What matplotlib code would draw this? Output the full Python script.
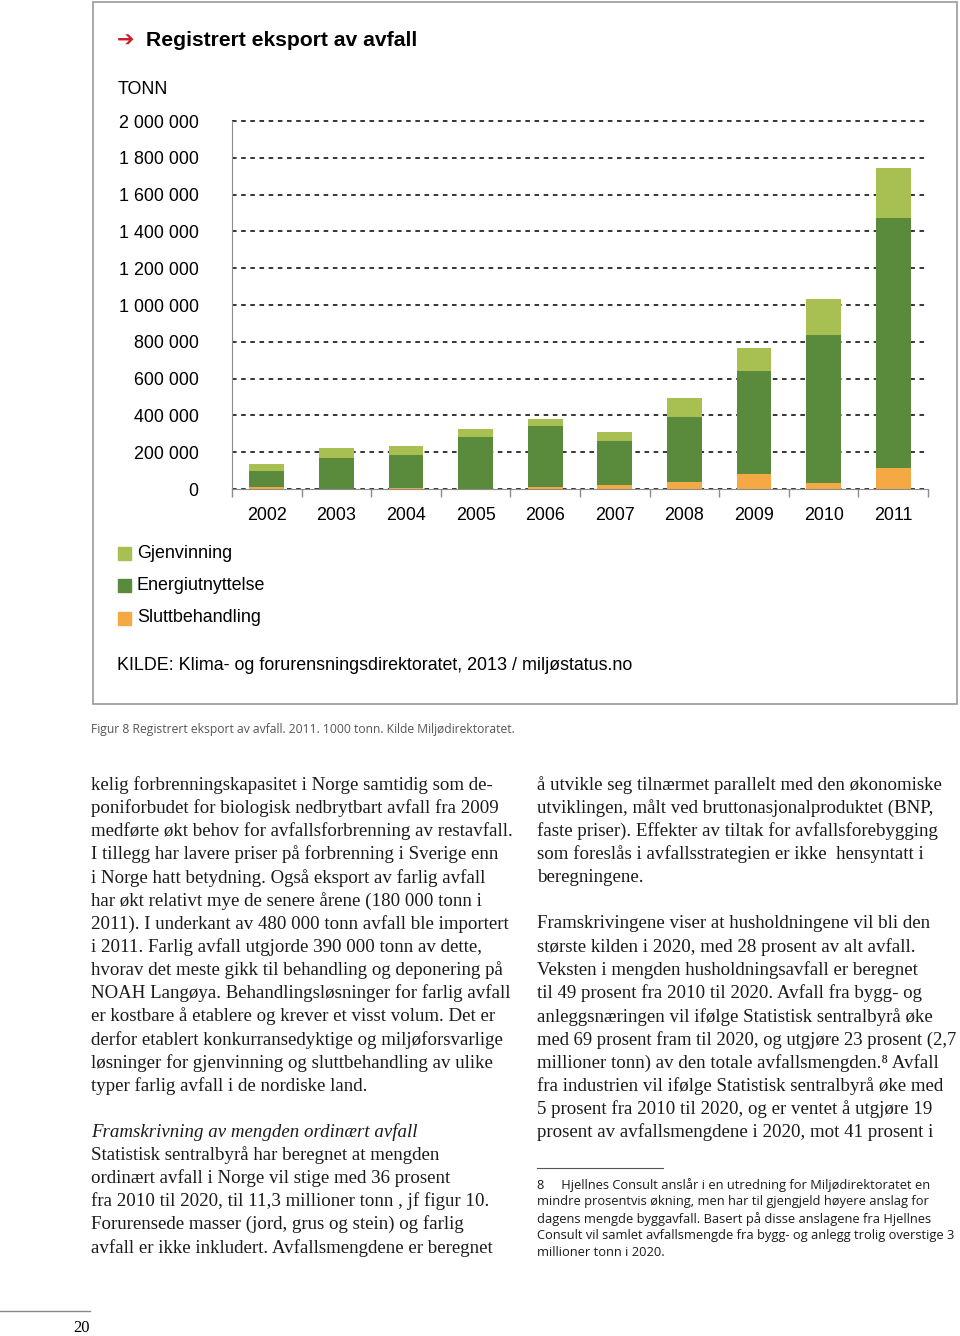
"""
Page recreation: 'Registrert eksport av avfall' stacked bar chart with
surrounding report text.
"""

import matplotlib
matplotlib.use("Agg")
import matplotlib.pyplot as plt
from matplotlib.patches import Rectangle
from matplotlib.lines import Line2D
from matplotlib.ticker import FuncFormatter, MultipleLocator

W, H = 960, 1336

# ---- chart data (tonn) ----
years = ["2002", "2003", "2004", "2005", "2006", "2007", "2008", "2009", "2010", "2011"]
sluttbehandling = [9000, 2000, 3000, 1000, 12000, 20000, 38000, 80000, 33000, 113000]
energiutnyttelse = [89000, 165000, 180000, 279000, 331000, 240000, 356000, 564000, 802000, 1358000]
gjenvinning = [36000, 57000, 51000, 47000, 35000, 49000, 100000, 120000, 198000, 274000]

series_names = ["Gjenvinning", "Energiutnyttelse", "Sluttbehandling"]
series_colors = ["#A8C052", "#5A8A3C", "#F4A944"]

title = "Registrert eksport av avfall"
unit_label = "TONN"
source = "KILDE: Klima- og forurensningsdirektoratet, 2013 / miljøstatus.no"
caption = "Figur 8 Registrert eksport av avfall. 2011. 1000 tonn. Kilde Miljødirektoratet."

left_col = [
    "kelig forbrenningskapasitet i Norge samtidig som de-",
    "poniforbudet for biologisk nedbrytbart avfall fra 2009",
    "medførte økt behov for avfallsforbrenning av restavfall.",
    "I tillegg har lavere priser på forbrenning i Sverige enn",
    "i Norge hatt betydning. Også eksport av farlig avfall",
    "har økt relativt mye de senere årene (180 000 tonn i",
    "2011). I underkant av 480 000 tonn avfall ble importert",
    "i 2011. Farlig avfall utgjorde 390 000 tonn av dette,",
    "hvorav det meste gikk til behandling og deponering på",
    "NOAH Langøya. Behandlingsløsninger for farlig avfall",
    "er kostbare å etablere og krever et visst volum. Det er",
    "derfor etablert konkurransedyktige og miljøforsvarlige",
    "løsninger for gjenvinning og sluttbehandling av ulike",
    "typer farlig avfall i de nordiske land.",
]
left_heading = "Framskrivning av mengden ordinært avfall"
left_col2 = [
    "Statistisk sentralbyrå har beregnet at mengden",
    "ordinært avfall i Norge vil stige med 36 prosent",
    "fra 2010 til 2020, til 11,3 millioner tonn , jf figur 10.",
    "Forurensede masser (jord, grus og stein) og farlig",
    "avfall er ikke inkludert. Avfallsmengdene er beregnet",
]
right_col = [
    "å utvikle seg tilnærmet parallelt med den økonomiske",
    "utviklingen, målt ved bruttonasjonalproduktet (BNP,",
    "faste priser). Effekter av tiltak for avfallsforebygging",
    "som foreslås i avfallsstrategien er ikke  hensyntatt i",
    "beregningene.",
]
right_col2 = [
    "Framskrivingene viser at husholdningene vil bli den",
    "største kilden i 2020, med 28 prosent av alt avfall.",
    "Veksten i mengden husholdningsavfall er beregnet",
    "til 49 prosent fra 2010 til 2020. Avfall fra bygg- og",
    "anleggsnæringen vil ifølge Statistisk sentralbyrå øke",
    "med 69 prosent fram til 2020, og utgjøre 23 prosent (2,7",
    "millioner tonn) av den totale avfallsmengden.⁸ Avfall",
    "fra industrien vil ifølge Statistisk sentralbyrå øke med",
    "5 prosent fra 2010 til 2020, og er ventet å utgjøre 19",
    "prosent av avfallsmengdene i 2020, mot 41 prosent i",
]
footnote = [
    "8     Hjellnes Consult anslår i en utredning for Miljødirektoratet en",
    "mindre prosentvis økning, men har til gjengjeld høyere anslag for",
    "dagens mengde byggavfall. Basert på disse anslagene fra Hjellnes",
    "Consult vil samlet avfallsmengde fra bygg- og anlegg trolig overstige 3",
    "millioner tonn i 2020.",
]
page_number = "20"

SANS = ["Liberation Sans", "DejaVu Sans"]
SERIF = ["Liberation Serif", "DejaVu Serif"]
MYRIAD = ["Open Sans", "DejaVu Sans"]
CHART_FS = 12.9


def fx(x):
    return x / W


def fy(y):
    return 1 - y / H


def ptext(fig, x, y, s, **kw):
    kw.setdefault("va", "center")
    kw.setdefault("ha", "left")
    return fig.text(fx(x), fy(y), s, **kw)


fig = plt.figure(figsize=(W / 100, H / 100), dpi=100)
renderer = fig.canvas.get_renderer()


def body_line(x, y, s, right_limit, **kw):
    """Draw a line of body text, shrinking it if it would pass the column edge."""
    t = ptext(fig, x, y, s, **kw)
    width = t.get_window_extent(renderer).width
    if x + width > right_limit:
        t.set_fontsize(t.get_fontsize() * (right_limit - x) / width)
    return t


# chart frame
fig.patches.append(Rectangle((fx(93), fy(704)), fx(957) - fx(93), fy(2) - fy(704),
                             transform=fig.transFigure, fill=False,
                             edgecolor="#9a9a9a", linewidth=1.2))

ptext(fig, 117, 41, "➔", color="#C8202A", fontsize=15, family=["DejaVu Sans"],
      fontweight="bold")
ptext(fig, 146, 41, title, fontsize=15.2, fontweight="bold", family=SANS)
ptext(fig, 118, 89, unit_label, fontsize=CHART_FS, family=SANS)

# ---- bars ----
ax = fig.add_axes([fx(232), fy(489), fx(928) - fx(232), fy(121) - fy(489)])
x = list(range(len(years)))
bottom2 = sluttbehandling
bottom3 = [a + b for a, b in zip(sluttbehandling, energiutnyttelse)]
ax.bar(x, sluttbehandling, width=0.5, color=series_colors[2], zorder=3)
ax.bar(x, energiutnyttelse, width=0.5, bottom=bottom2, color=series_colors[1], zorder=3)
ax.bar(x, gjenvinning, width=0.5, bottom=bottom3, color=series_colors[0], zorder=3)

ax.set_xlim(-0.5, len(years) - 0.5)
ax.set_ylim(0, 2000000)
ax.yaxis.set_major_locator(MultipleLocator(200000))
ax.yaxis.set_major_formatter(FuncFormatter(lambda v, p: f"{int(v):,}".replace(",", " ")))
ax.set_xticks(x)
ax.set_xticklabels(years)
ax.set_xticks([i - 0.5 for i in range(len(years) + 1)], minor=True)
ax.tick_params(axis="x", which="major", length=0, pad=13, labelsize=CHART_FS)
ax.tick_params(axis="x", which="minor", length=6, color="#8c8c8c", width=1)
ax.tick_params(axis="y", length=0, pad=24, labelsize=CHART_FS)
for lab in ax.get_xticklabels() + ax.get_yticklabels():
    lab.set_family(SANS)

ax.grid(axis="y", color="black", linestyle=(0, (3, 3)), linewidth=1.1, zorder=1)
for gl in ax.get_ygridlines():
    gl.set_clip_on(False)
ax.set_axisbelow(True)
for side in ("top", "right"):
    ax.spines[side].set_visible(False)
ax.spines["left"].set_color("#8c8c8c")
ax.spines["bottom"].set_color("#8c8c8c")
ax.spines["bottom"].set_zorder(4)

# legend
for i, (name, col) in enumerate(zip(series_names, series_colors)):
    yy = 553 + i * 32.5
    fig.patches.append(Rectangle((fx(118), fy(yy + 6.5)), fx(13), 13 / H,
                                 transform=fig.transFigure, color=col))
    ptext(fig, 137, yy, name, fontsize=CHART_FS, family=SANS)

ptext(fig, 117, 666, source, fontsize=CHART_FS, family=SANS)
ptext(fig, 91, 730, caption, fontsize=8.7, family=MYRIAD, color="#555555")

# ---- body text ----
LS = 23.15
body_kw = dict(fontsize=13.6, family=SERIF, color="#1a1a1a")
for i, line in enumerate(left_col):
    body_line(91, 785 + i * LS, line, 512, **body_kw)
body_line(91, 1132, left_heading, 512, style="italic", **body_kw)
for i, line in enumerate(left_col2):
    body_line(91, 1155 + i * LS, line, 512, **body_kw)
for i, line in enumerate(right_col):
    body_line(537, 785 + i * LS, line, 956, **body_kw)
for i, line in enumerate(right_col2):
    body_line(537, 924 + i * LS, line, 956, **body_kw)

fig.lines.append(Line2D([fx(537), fx(663)], [fy(1168), fy(1168)],
                        transform=fig.transFigure, color="#555555", linewidth=0.8))
for i, line in enumerate(footnote):
    ptext(fig, 537, 1185 + i * 17, line, fontsize=9.3, family=MYRIAD, color="#1a1a1a")

fig.lines.append(Line2D([0, fx(90)], [fy(1311), fy(1311)],
                        transform=fig.transFigure, color="#888888", linewidth=1))
ptext(fig, 82, 1328, page_number, ha="center", fontsize=12, family=SERIF)

fig.savefig("out.png", dpi=100)
